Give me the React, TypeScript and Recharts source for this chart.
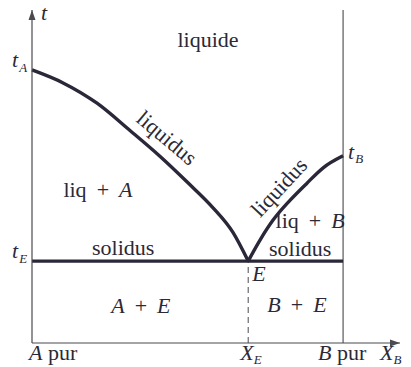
import { LineChart, Line, XAxis, YAxis, ReferenceLine, ReferenceDot } from "recharts";

// composition axis: 0 = A pur, 1 = B pur ; temperature axis: arbitrary 0..100
const X_E = 0.695;
const X_MAX = 1.183;
const T_A = 82;
const T_E = 24.6;
const T_B = 56.2;
const T_MAX = 100;

const liqAX = [0, 0.1, 0.209, 0.315, 0.412, 0.498, 0.582, 0.646, X_E];
const liqAT = [T_A, 78.1, 72.0, 63.8, 56.0, 48.4, 40.6, 33.2, T_E];
const liqBX = [X_E, 0.733, 0.775, 0.83, 0.884, 0.936, 1];
const liqBT = [T_E, 30.9, 36.9, 42.9, 48.0, 52.6, T_B];
const solX = [0, 1];

const xTicks = [0, X_E, 1, X_MAX];
const yTicks = [T_E, T_A];

const leftLiquidus = liqAX.map((x, i) => ({ x, t: liqAT[i] }));
const rightLiquidus = liqBX.map((x, i) => ({ x, t: liqBT[i] }));
const solidus = solX.map((x) => ({ x, t: T_E }));

const FONT = '"Liberation Serif", "DejaVu Serif", serif';
const INK = "#2b2936";
const CURVE = "#2a2738";
const AXIS = "#4a4a50";
const FS = 22;

const it = { fontStyle: "italic" as const };

function XTick({ x, payload }: any) {
  const v = payload.value;
  const base = { y: 360, fontFamily: FONT, fontSize: FS, fill: INK };
  if (v === 0)
    return (
      <text {...base} x={x - 3}>
        <tspan {...it}>A</tspan> pur
      </text>
    );
  if (v === 1)
    return (
      <text {...base} x={x - 25}>
        <tspan {...it}>B</tspan> pur
      </text>
    );
  if (v === X_E)
    return (
      <text {...base} x={x - 8}>
        <tspan {...it}>X</tspan>
        <tspan {...it} fontSize={13} dy={4}>E</tspan>
      </text>
    );
  return (
    <text {...base} x={x - 20}>
      <tspan {...it}>X</tspan>
      <tspan {...it} fontSize={13} dy={4}>B</tspan>
    </text>
  );
}

function YTick({ y, payload }: any) {
  const sub = payload.value === T_A ? "A" : "E";
  return (
    <text x={12} y={y - 3} fontFamily={FONT} fontSize={FS} fill={INK}>
      <tspan {...it}>t</tspan>
      <tspan {...it} fontSize={13} dy={5} dx={1}>{sub}</tspan>
    </text>
  );
}

const note =
  (content: any, opts: { dx?: number; dy?: number; anchor?: string; rotate?: number } = {}) =>
  (p: any) => {
    const x = p.cx + (opts.dx || 0);
    const y = p.cy + (opts.dy || 0);
    return (
      <text
        x={x}
        y={y}
        textAnchor={opts.anchor || "middle"}
        dominantBaseline={opts.rotate ? "central" : "alphabetic"}
        transform={opts.rotate ? `rotate(${opts.rotate} ${x} ${y})` : undefined}
        fontFamily={FONT}
        fontSize={FS}
        fill={INK}
      >
        {content}
      </text>
    );
  };

// "a + b" with wide spacing around the plus sign
const sum = (a: any, b: any) => (
  <>
    {a}
    <tspan dx={10}>+</tspan>
    <tspan dx={10}>{b}</tspan>
  </>
);

const arrowRight = (p: any) => (
  <polygon points={`${p.cx},${p.cy} ${p.cx - 10},${p.cy - 3.5} ${p.cx - 10},${p.cy + 3.5}`} fill={AXIS} />
);
const arrowUp = (p: any) => (
  <polygon points={`${p.cx},${p.cy} ${p.cx - 3.5},${p.cy + 10} ${p.cx + 3.5},${p.cy + 10}`} fill={AXIS} />
);

export default function App() {
  return (
    <div style={{ position: "absolute", left: 0, top: 0, width: 411, height: 367, background: "#fff" }}>
      <LineChart width={411} height={367} margin={{ top: 10, right: 11, left: 0, bottom: 0 }}>
        <XAxis
          dataKey="x"
          type="number"
          domain={[0, X_MAX]}
          ticks={xTicks}
          interval={0}
          height={24}
          tickLine={false}
          axisLine={{ stroke: AXIS, strokeWidth: 1.2 }}
          tick={<XTick />}
        />
        <YAxis
          dataKey="t"
          type="number"
          domain={[0, T_MAX]}
          ticks={yTicks}
          interval={0}
          width={32}
          tickLine={false}
          axisLine={{ stroke: AXIS, strokeWidth: 1.2 }}
          tick={<YTick />}
        />

        <ReferenceLine x={1} stroke={AXIS} strokeWidth={1.1} />
        <ReferenceLine
          segment={[
            { x: X_E, y: 0 },
            { x: X_E, y: T_E },
          ]}
          stroke={AXIS}
          strokeWidth={1}
          strokeDasharray="6 4"
        />

        <Line data={solidus} dataKey="t" type="linear" stroke={CURVE} strokeWidth={3.4} dot={false} isAnimationActive={false} />
        <Line data={leftLiquidus} dataKey="t" type="monotone" stroke={CURVE} strokeWidth={3.4} dot={false} isAnimationActive={false} />
        <Line data={rightLiquidus} dataKey="t" type="monotone" stroke={CURVE} strokeWidth={3.4} dot={false} isAnimationActive={false} />

        <ReferenceDot x={X_MAX} y={0} r={0} ifOverflow="visible" shape={arrowRight} />
        <ReferenceDot x={0} y={T_MAX} r={0} ifOverflow="visible" shape={arrowUp} />

        <ReferenceDot x={0} y={T_MAX} r={0} ifOverflow="visible" shape={note(<tspan {...it}>t</tspan>, { dx: 9, dy: 10, anchor: "start" })} />
        <ReferenceDot x={1} y={T_B} r={0} ifOverflow="visible" shape={note(<><tspan {...it}>t</tspan><tspan {...it} fontSize={13} dy={4} dx={1}>B</tspan></>, { dx: 5, dy: 3, anchor: "start" })} />

        <ReferenceDot x={0.566} y={88.9} r={0} ifOverflow="visible" shape={note("liquide")} />
        <ReferenceDot x={0.212} y={43.8} r={0} ifOverflow="visible" shape={note(sum("liq", <tspan {...it}>A</tspan>))} />
        <ReferenceDot x={0.894} y={34.5} r={0} ifOverflow="visible" shape={note(sum("liq", <tspan {...it}>B</tspan>))} />
        <ReferenceDot x={0.293} y={26.4} r={0} ifOverflow="visible" shape={note("solidus")} />
        <ReferenceDot x={0.862} y={26.1} r={0} ifOverflow="visible" shape={note("solidus")} />
        <ReferenceDot x={0.35} y={9} r={0} ifOverflow="visible" shape={note(sum(<tspan {...it}>A</tspan>, <tspan {...it}>E</tspan>))} />
        <ReferenceDot x={0.852} y={9.3} r={0} ifOverflow="visible" shape={note(sum(<tspan {...it}>B</tspan>, <tspan {...it}>E</tspan>))} />
        <ReferenceDot x={X_E} y={T_E} r={0} ifOverflow="visible" shape={note(<tspan {...it}>E</tspan>, { dx: 4, dy: 20, anchor: "start" })} />
        <ReferenceDot x={0.421} y={60.1} r={0} ifOverflow="visible" shape={note("liquidus", { rotate: 40, dx: 4, dy: -5 })} />
        <ReferenceDot x={0.807} y={45.6} r={0} ifOverflow="visible" shape={note("liquidus", { rotate: -47, dx: -4, dy: -4 })} />
      </LineChart>
    </div>
  );
}
